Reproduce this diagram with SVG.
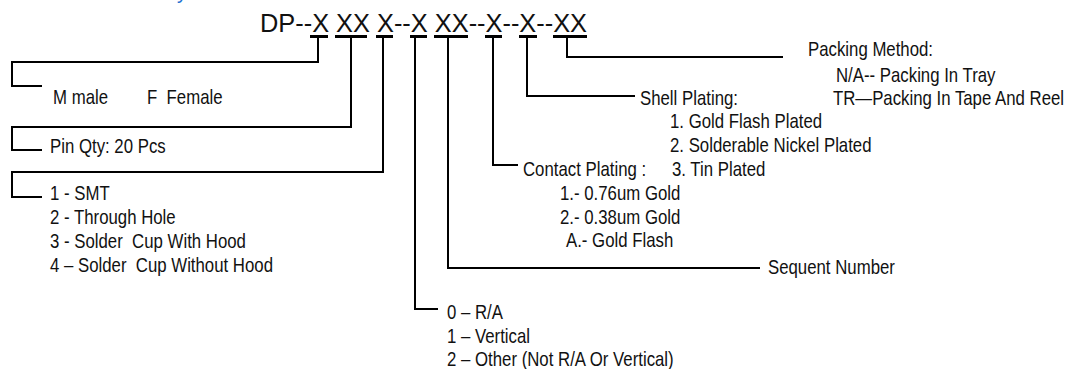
<svg xmlns="http://www.w3.org/2000/svg" width="1087" height="369" viewBox="0 0 1087 369">
<style>
.t{font-family:"Liberation Sans",Arial,sans-serif;font-size:20px;fill:#111}
.title{font-family:"Liberation Sans",Arial,sans-serif;font-size:26.5px;fill:#111}
.blue{font-family:"Liberation Sans",Arial,sans-serif;font-size:20px;fill:#1f6fd0}
.c{fill:none;stroke:#000;stroke-width:2}
.u{stroke:#000;stroke-width:3}
</style>
<rect width="1087" height="369" fill="#fff"/>
<text class="blue" x="177" y="-1">y</text>
<g id="code">
<text class="title" x="260" y="31.5" textLength="327" lengthAdjust="spacingAndGlyphs">DP--X XX X--X XX--X--X--XX</text>
<line class="u" x1="310" y1="36.5" x2="328" y2="36.5"/>
<line class="u" x1="335" y1="36.5" x2="367" y2="36.5"/>
<line class="u" x1="376" y1="36.5" x2="393" y2="36.5"/>
<line class="u" x1="410" y1="36.5" x2="427" y2="36.5"/>
<line class="u" x1="434" y1="36.5" x2="468" y2="36.5"/>
<line class="u" x1="485" y1="36.5" x2="502" y2="36.5"/>
<line class="u" x1="519" y1="36.5" x2="537" y2="36.5"/>
<line class="u" x1="553" y1="36.5" x2="587" y2="36.5"/>
</g>
<g id="connectors">
<path class="c" d="M318 37V62H12V86H42"/>
<path class="c" d="M351 37V127H12V150H42"/>
<path class="c" d="M383 37V172H12V197H42"/>
<path class="c" d="M415 37V309H438"/>
<path class="c" d="M448 37V268H760"/>
<path class="c" d="M493 37V165H518"/>
<path class="c" d="M527 37V96H635"/>
<path class="c" d="M567 37V57H783"/>
</g>
<g id="gender">
<text class="t" transform="translate(53 104) scale(.84 1)">M male</text>
<text class="t" xml:space="preserve" transform="translate(147 104) scale(.84 1)">F  Female</text>
</g>
<g id="pinqty">
<text class="t" transform="translate(50 153) scale(.84 1)">Pin Qty: 20 Pcs</text>
</g>
<g id="termination">
<text class="t" transform="translate(50 200) scale(.84 1)">1 - SMT</text>
<text class="t" transform="translate(50 224) scale(.84 1)">2 - Through Hole</text>
<text class="t" xml:space="preserve" transform="translate(50 248) scale(.84 1)">3 - Solder  Cup With Hood</text>
<text class="t" xml:space="preserve" transform="translate(50 272) scale(.84 1)">4 – Solder  Cup Without Hood</text>
</g>
<g id="orientation">
<text class="t" transform="translate(447 319) scale(.84 1)">0 – R/A</text>
<text class="t" transform="translate(447 343) scale(.84 1)">1 – Vertical</text>
<text class="t" transform="translate(447 366) scale(.84 1)">2 – Other (Not R/A Or Vertical)</text>
</g>
<g id="sequent">
<text class="t" transform="translate(768 274) scale(.84 1)">Sequent Number</text>
</g>
<g id="contact">
<text class="t" transform="translate(523 176) scale(.84 1)">Contact Plating :</text>
<text class="t" transform="translate(560 200) scale(.84 1)">1.- 0.76um Gold</text>
<text class="t" transform="translate(560 224) scale(.84 1)">2.- 0.38um Gold</text>
<text class="t" transform="translate(566 247) scale(.84 1)">A.- Gold Flash</text>
</g>
<g id="shell">
<text class="t" transform="translate(640 105) scale(.84 1)">Shell Plating:</text>
<text class="t" transform="translate(670 128) scale(.84 1)">1. Gold Flash Plated</text>
<text class="t" transform="translate(670 152) scale(.84 1)">2. Solderable Nickel Plated</text>
<text class="t" transform="translate(672 176) scale(.84 1)">3. Tin Plated</text>
</g>
<g id="packing">
<text class="t" transform="translate(808 56) scale(.84 1)">Packing Method:</text>
<text class="t" transform="translate(836 82) scale(.84 1)">N/A-- Packing In Tray</text>
<text class="t" transform="translate(833 105) scale(.84 1)">TR—Packing In Tape And Reel</text>
</g>
</svg>
